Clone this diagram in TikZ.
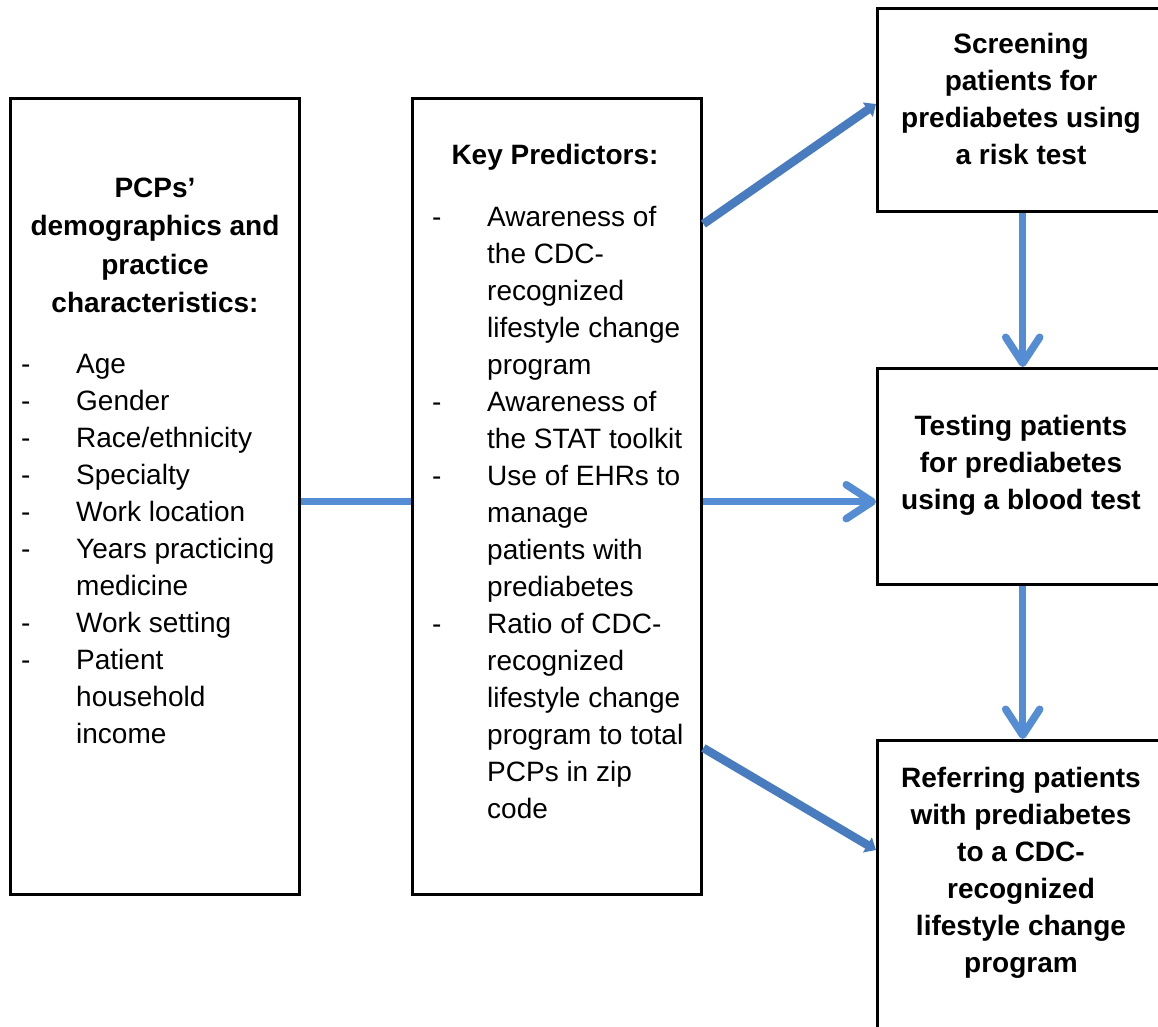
\documentclass[tikz,border=0pt]{standalone}
\usepackage{fontspec}
\setmainfont{Liberation Sans}
\usetikzlibrary{arrows.meta}

\definecolor{flowblue}{RGB}{84,141,212}
\definecolor{diagblue}{RGB}{72,124,190}

\newcommand{\dashitem}[1]{\makebox[55pt][l]{-}#1}
\newcommand{\dashcont}[1]{\hspace*{55pt}#1}

\tikzset{
  box/.style={draw=black, line width=3.4pt, rectangle, inner sep=0pt, anchor=north west},
  listtxt/.style={inner sep=0pt, anchor=north west, align=left, font=\fontsize{28}{37}\selectfont},
  head/.style={inner sep=0pt, anchor=north, align=center, font=\bfseries\fontsize{28}{38.5}\selectfont},
  outcome/.style={inner sep=0pt, anchor=north, align=center, font=\bfseries\fontsize{28}{37}\selectfont},
  link/.style={draw=flowblue, line width=7pt},
  flow/.style={draw=flowblue, line width=7.5pt, -{Straight Barb[length=26pt,width=34pt,round]}},
  diag/.style={draw=diagblue, line width=8.5pt, -{Triangle[length=10pt,width=17pt]}}
}

\begin{document}
\begin{tikzpicture}[x=1pt, y=-1pt]
    \clip (0,0) rectangle (1158,1026);

    % boxes
    \node[box, minimum width=289pt, minimum height=796pt] (pcp) at (9,97) {};
    \node[box, minimum width=289pt, minimum height=796pt] (pred) at (411,97) {};
    \node[box, minimum width=290pt, minimum height=203pt] (screen) at (876,7) {};
    \node[box, minimum width=290pt, minimum height=216pt] (test) at (876,367) {};
    \node[box, minimum width=290pt, minimum height=330pt] (refer) at (876,739) {};

    % texts
    \node[head] (pcphead) at (155,170) {\strut PCPs’\\demographics and\\practice\\characteristics:};
    \node[listtxt] (pcplist) at (21,347) {\strut\dashitem{Age}\\ \dashitem{Gender}\\ \dashitem{Race/ethnicity}\\
        \dashitem{Specialty}\\ \dashitem{Work location}\\ \dashitem{Years practicing}\\ \dashcont{medicine}\\
        \dashitem{Work setting}\\ \dashitem{Patient}\\ \dashcont{household}\\ \dashcont{income}};

    \node[head] (predhead) at (555,137) {\strut Key Predictors:};
    \node[listtxt] (predlist) at (432,200) {\strut\dashitem{Awareness of}\\ \dashcont{the CDC-}\\ \dashcont{recognized}\\
        \dashcont{lifestyle change}\\ \dashcont{program}\\ \dashitem{Awareness of}\\ \dashcont{the STAT toolkit}\\
        \dashitem{Use of EHRs to}\\ \dashcont{manage}\\ \dashcont{patients with}\\ \dashcont{prediabetes}\\
        \dashitem{Ratio of CDC-}\\ \dashcont{recognized}\\ \dashcont{lifestyle change}\\ \dashcont{program to total}\\
        \dashcont{PCPs in zip}\\ \dashcont{code}};

    \node[outcome] (screentxt) at (1021,27) {\strut Screening\\patients for\\prediabetes using\\a risk test};
    \node[outcome] (testtxt) at (1021,409) {\strut Testing patients\\for prediabetes\\using a blood test};
    \node[outcome] (refertxt) at (1021,761) {\strut Referring patients\\with prediabetes\\to a CDC-\\recognized\\lifestyle change\\program};

    % connectors
    \draw[link] ([yshift=-5pt]pcp.east) -- ([yshift=-5pt]pred.west);
    \draw[flow] ([yshift=-5pt]pred.east) -- ([yshift=-5pt]pred.east -| test.west);
    \draw[diag] ([yshift=-127pt]pred.north east) -- ([yshift=-97pt]screen.north west);
    \draw[diag] ([yshift=-651pt]pred.north east) -- ([yshift=-111pt]refer.north west);
    \draw[flow] (screen.south) -- (test.north);
    \draw[flow] (test.south) -- (refer.north);
\end{tikzpicture}
\end{document}
